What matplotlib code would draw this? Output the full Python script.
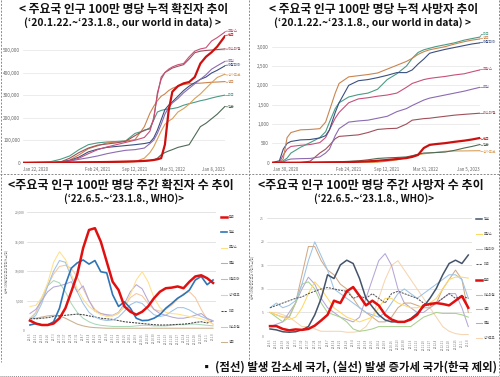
import matplotlib
matplotlib.use('Agg')
import matplotlib.pyplot as plt

plt.rcParams['font.family'] = ['Noto Sans CJK KR', 'DejaVu Sans']

# ---- 누적 확진자 (인구 100만 명당, 천 명 단위) ----
CASE_DAYS = [0, 150, 200, 250, 300, 350, 400, 450, 500, 550, 600, 650, 680, 700,
             720, 740, 760, 780, 800, 830, 860, 890, 920, 950, 980, 1010, 1040, 1082]
cum_cases = {
    '미국': [0, 5, 15, 30, 58, 80, 88, 92, 94, 97, 130, 142, 155, 190, 225, 232, 236, 238, 240, 245, 255, 262, 268, 275, 280, 287, 293, 300],
    '일본': [0, 0, 0, 0.5, 1, 1.5, 2, 3, 4, 5, 6, 8, 10, 12, 20, 35, 45, 52, 58, 68, 74, 80, 120, 160, 175, 195, 215, 250],
    '영국': [0, 0, 2, 12, 35, 62, 75, 88, 92, 96, 102, 160, 220, 250, 275, 295, 305, 320, 330, 340, 347, 350, 352, 353, 355, 357, 358, 360],
    '싱가포르': [0, 0, 0, 0, 0, 0, 0, 0, 1, 2, 5, 20, 45, 70, 105, 140, 170, 185, 195, 225, 240, 260, 285, 305, 330, 355, 378, 393],
    '이탈리아': [0, 1, 4, 10, 25, 48, 60, 68, 72, 76, 80, 85, 90, 110, 145, 190, 235, 255, 270, 295, 320, 340, 355, 370, 380, 398, 410, 430],
    '독일': [0, 0, 2, 7, 15, 22, 30, 40, 48, 55, 58, 65, 85, 100, 130, 170, 215, 245, 265, 285, 310, 330, 350, 370, 390, 415, 430, 450],
    '이스라엘': [0, 0, 3, 20, 45, 65, 78, 83, 88, 95, 120, 145, 150, 190, 310, 370, 400, 410, 420, 428, 435, 460, 488, 495, 498, 500, 502, 505],
    '프랑스': [0, 0, 1, 8, 20, 40, 58, 70, 80, 90, 100, 112, 140, 200, 300, 380, 400, 415, 425, 435, 440, 470, 495, 505, 510, 540, 555, 580],
    '한국': [0, 0, 0.5, 1, 1.5, 2, 2.5, 3, 4, 5, 6, 8, 10, 12, 15, 20, 80, 230, 315, 340, 352, 358, 380, 440, 470, 490, 515, 562],
}

# ---- 누적 사망자 (인구 100만 명당) ----
DEATH_DAYS = [0, 40, 60, 80, 100, 150, 200, 250, 280, 300, 330, 350, 400, 450, 500,
              550, 600, 650, 700, 730, 760, 790, 820, 850, 900, 950, 1000, 1040, 1082]
cum_deaths = {
    '싱가포르': [0, 0, 0, 0, 0, 0, 0, 0, 0, 0, 0, 0, 0, 0, 2, 10, 40, 70, 130, 180, 205, 230, 250, 265, 295, 302, 305, 308, 310],
    '일본': [0, 0, 0, 0, 1, 2, 5, 10, 15, 18, 22, 25, 35, 48, 75, 110, 125, 135, 150, 180, 220, 250, 255, 262, 275, 320, 380, 420, 470],
    '한국': [0, 0, 0, 0, 0, 1, 3, 6, 7, 8, 9, 10, 15, 25, 35, 50, 70, 95, 120, 150, 200, 380, 460, 480, 505, 540, 570, 600, 640],
    '이스라엘': [0, 0, 0, 0, 2, 5, 40, 250, 350, 450, 620, 680, 700, 720, 780, 860, 880, 890, 1000, 1100, 1120, 1140, 1150, 1170, 1200, 1230, 1250, 1265, 1280],
    '독일': [0, 0, 20, 70, 95, 105, 110, 150, 250, 350, 700, 880, 1050, 1080, 1100, 1150, 1200, 1320, 1400, 1480, 1550, 1620, 1670, 1700, 1750, 1800, 1850, 1900, 1950],
    '프랑스': [0, 10, 200, 350, 420, 450, 470, 520, 650, 850, 1150, 1300, 1550, 1650, 1680, 1720, 1750, 1800, 1950, 2050, 2100, 2150, 2180, 2200, 2230, 2270, 2300, 2350, 2400],
    '미국': [0, 5, 50, 120, 250, 400, 520, 650, 800, 1050, 1400, 1550, 1700, 1760, 1800, 1900, 2150, 2300, 2500, 2700, 2850, 2920, 2960, 3000, 3050, 3100, 3170, 3210, 3250],
    '이탈리아': [0, 50, 350, 500, 550, 590, 600, 640, 700, 850, 1300, 1550, 2000, 2120, 2150, 2200, 2260, 2330, 2330, 2400, 2550, 2680, 2830, 2870, 2930, 2980, 3030, 3070, 3100],
    '영국': [0, 0, 100, 650, 780, 850, 860, 880, 1050, 1350, 1800, 2050, 2220, 2250, 2280, 2320, 2420, 2520, 2620, 2700, 2800, 2870, 2920, 2950, 3000, 3070, 3130, 3170, 3200],
}

# ---- 주간 (WHO, '22.6.5.~'23.1.8.) ----
WEEKS = ['22.6.5', '22.6.12', '22.6.19', '22.6.26', '22.7.3', '22.7.10', '22.7.17', '22.7.24',
         '22.7.31', '22.8.7', '22.8.14', '22.8.21', '22.8.28', '22.9.4', '22.9.11', '22.9.18',
         '22.9.25', '22.10.2', '22.10.9', '22.10.16', '22.10.23', '22.10.30', '22.11.6', '22.11.13',
         '22.11.20', '22.11.27', '22.12.4', '22.12.11', '22.12.18', '22.12.25', '23.1.1', '23.1.8']

weekly_cases = {
    '영국': [2000, 2000, 2200, 2400, 2500, 2400, 2000, 1500, 1000, 700, 500, 400, 350, 300, 300, 300, 300, 300, 300, 300, 300, 300, 300, 300, 300, 300, 300, 300, 300, 300, 300, 300],
    '이스라엘': [1500, 3000, 5500, 7500, 8400, 8000, 6500, 4500, 3000, 2000, 1400, 1000, 800, 700, 600, 600, 600, 600, 700, 800, 800, 700, 700, 700, 800, 900, 900, 1000, 1000, 900, 800, 700],
    '미국': [2000, 1900, 2000, 2100, 2300, 2400, 2500, 2600, 2700, 2600, 2400, 2200, 2000, 1900, 1800, 1600, 1400, 1300, 1200, 1100, 1000, 900, 850, 850, 900, 950, 1000, 1100, 1300, 1400, 1200, 1500],
    '싱가포르': [2000, 3000, 5000, 7500, 9500, 10800, 11000, 10500, 9000, 7000, 5000, 3500, 2800, 2500, 2400, 2800, 4000, 5500, 6200, 5800, 4500, 3500, 3200, 3500, 4200, 5200, 6200, 6500, 5500, 3500, 1800, 1000],
    '이탈리아': [1500, 2500, 4500, 7500, 10000, 11800, 11500, 9000, 6500, 4500, 3000, 2200, 1800, 1600, 1700, 2200, 3200, 4300, 4800, 4500, 3500, 2600, 2300, 2500, 3200, 3800, 3800, 3400, 2800, 2300, 1900, 1600],
    '독일': [2800, 3500, 5000, 6500, 7300, 7500, 7800, 8200, 6500, 7500, 5000, 3200, 2800, 2600, 2500, 3000, 4500, 6500, 7700, 7000, 5000, 3500, 2800, 2500, 2200, 2000, 2000, 2200, 2500, 2800, 2000, 1500],
    '프랑스': [4000, 4200, 5500, 8000, 11500, 13300, 12000, 9500, 7000, 5200, 4000, 3200, 2600, 2300, 2400, 2900, 4000, 6000, 8500, 9900, 8200, 5500, 3800, 3000, 2800, 2700, 2500, 2300, 2100, 1900, 1500, 1000],
    '일본': [850, 1100, 850, 850, 1400, 3700, 7700, 10500, 11400, 11900, 11200, 11800, 9900, 9700, 6000, 4000, 4800, 3700, 2000, 1600, 1650, 2000, 2600, 3700, 4500, 5400, 6000, 6800, 8500, 9100, 7700, 8500],
    '한국': [1600, 1100, 850, 850, 1100, 2000, 3700, 6500, 9400, 13900, 17000, 17300, 15000, 11600, 8200, 6800, 4000, 3100, 2600, 3100, 4000, 5400, 6500, 7100, 7200, 7400, 7100, 8200, 9100, 9300, 8800, 8000],
}

weekly_deaths = {
    '싱가포르': [5, 5, 4.5, 4, 3, 2, 2, 1.5, 1, 1, 1, 1, 0.8, 0.8, 1, 2, 4, 8, 12, 15, 16, 14, 12, 10, 8, 6, 4, 2, 1, 0.5, 0.3, 0.3],
    '독일': [2, 2.5, 3, 5, 7, 10, 12.5, 11, 8, 6, 5, 4, 3.5, 3, 4, 8, 12, 16, 17.5, 15, 10, 7, 6, 5, 5, 6, 7, 8, 9, 9, 6, 2],
    '영국': [5, 4.5, 4, 4, 7, 13, 19, 19, 16, 14, 13, 11, 10, 8, 6, 5, 4, 3, 3, 4, 6, 7, 7, 6.5, 6, 6, 7, 10, 12, 14, 12, 5],
    '이스라엘': [5, 4, 3, 4, 7, 11, 11.5, 10, 7, 5, 4.5, 4, 3, 1.5, 1, 1.2, 1.5, 2, 2, 2, 2, 2, 2, 3, 4, 4.5, 5, 4.8, 4.8, 4.8, 4.5, 4],
    '이탈리아': [6, 7, 6, 6.5, 7.5, 11, 16, 20, 17, 14, 10, 9, 8, 7, 6, 5, 4.5, 4, 5, 7, 9, 10, 9, 8, 9, 10, 11, 12, 13, 13, 12, 8],
    '프랑스': [5, 4.5, 4, 3.5, 4, 6, 9, 11.5, 10, 8, 6, 5, 4, 3.5, 3, 3.5, 4, 6, 8, 8, 7, 6.5, 6, 6, 6.5, 7, 8, 10, 12, 12.5, 12.5, 12.3],
    '미국': [6, 6.5, 7, 7.5, 8, 8.3, 9, 9.5, 10, 10.3, 10, 9.7, 9.5, 8, 8.5, 8, 9, 8, 7, 9, 9.5, 9, 8.5, 8, 7, 6.5, 7, 8, 9, 8, 8.5, 8],
    '일본': [1.5, 1.3, 0.9, 0.8, 0.9, 1.3, 2.0, 4.5, 8.0, 13.0, 12.2, 15.1, 16.1, 15.4, 12.2, 8.0, 6.2, 4.5, 3.4, 3.0, 3.0, 3.0, 3.7, 4.8, 6.2, 8.0, 10.1, 13.0, 15.4, 16.1, 15.4, 17.2],
    '한국': [2.1, 2.1, 1.5, 1.2, 1.4, 1.3, 1.5, 2.2, 3.3, 4.5, 7.5, 7.0, 9.5, 10.4, 8.5, 6.5, 7.5, 6.5, 4.5, 3.5, 3.0, 3.0, 3.5, 4.5, 6.5, 6.8, 7.0, 6.8, 6.5, 7.5, 8.5, 6.0],
}

CASE_LEGEND = ['한국', '일본', '프랑스', '독일', '이탈리아', '싱가포르', '미국', '이스라엘', '영국']
DEATH_LEGEND = ['일본', '프랑스', '이탈리아', '미국', '한국', '이스라엘', '영국', '독일', '싱가포르']

# 스타일
owid_colors = {'프랑스': '#c8507a', '한국': '#cc1010', '이스라엘': '#a0505a', '독일': '#8c6bb1',
               '이탈리아': '#3a4f80', '싱가포르': '#d9a05a', '영국': '#c9854f', '미국': '#4a9c84',
               '일본': '#4f6a55'}
cases_colors = {'한국': '#e01010', '일본': '#2e75b6', '프랑스': '#ffe08a', '독일': '#b4a7d6',
                '이탈리아': '#9dc3e6', '싱가포르': '#f4c7a0', '미국': '#404040', '이스라엘': '#a9d8b8',
                '영국': '#c9b08f'}
deaths_colors = {'일본': '#44546a', '프랑스': '#ffd966', '이탈리아': '#9dc3e6', '미국': '#595959',
                 '한국': '#e01010', '이스라엘': '#a9d18e', '영국': '#d2aa85', '독일': '#b4a7d6',
                 '싱가포르': '#f6d5b0'}

W, H = 500, 377
fig = plt.figure(figsize=(5, 3.77), dpi=100)


def px_axes(l, t, r, b):
    return fig.add_axes([l / W, 1 - b / H, (r - l) / W, (b - t) / H])


# 전체 틀, 제목, 각주
ov = fig.add_axes([0, 0, 1, 1])
ov.set_xlim(0, W)
ov.set_ylim(H, 0)
ov.axis('off')
dash = dict(color='#8a8a8a', lw=0.7, ls=(0, (2, 1.5)))
ov.plot([248.5, 248.5], [0, 362], **dash)
ov.plot([0.5, 0.5], [0, 362], **dash)
ov.plot([498.5, 498.5], [0, 375], **dash)
ov.plot([0, 500], [174, 174], **dash)
ov.plot([0, 500], [375.5, 375.5], color='#8a8a8a', lw=0.7, ls=(0, (1, 1)))

t1 = dict(ha='center', va='center', fontweight='bold', fontsize=8.5, color='#111111')
t2 = dict(ha='center', va='center', fontweight='bold', fontsize=7.4, color='#111111')
t3 = dict(ha='center', va='center', fontweight='bold', fontsize=8.7, color='#111111')
t4 = dict(ha='center', va='center', fontweight='bold', fontsize=7.0, color='#111111')
ov.text(124, 10, '< 주요국 인구 100만 명당 누적 확진자 추이', **t1)
ov.text(123, 22.5, '(‘20.1.22.~‘23.1.8., our world in data) >', **t2)
ov.text(374, 10, '< 주요국 인구 100만 명당 누적 사망자 추이', **t1)
ov.text(373, 22.5, '(‘20.1.22.~‘23.1.8., our world in data) >', **t2)
ov.text(121, 186, '<주요국 인구 100만 명당 주간 확진자 수 추이', **t3)
ov.text(124, 198.5, '(‘22.6.5.~‘23.1.8., WHO)>', **t4)
ov.text(371, 186, '<주요국 인구 100만 명당 주간 사망자 수 추이', **t3)
ov.text(374, 198.5, '(‘22.6.5.~‘23.1.8., WHO)>', **t4)
ov.text(497, 367, '▪ (점선) 발생 감소세 국가, (실선) 발생 증가세 국가(한국 제외)',
        ha='right', va='center', fontweight='bold', fontsize=8.2, color='#111111')


def cumulative_panel(ax, days, series, ylim, yticks, ytl, xt, xtl, label_y):
    for v in yticks:
        ax.axhline(v, color='#bbbbbb' if v == 0 else '#e4e4e4', lw=0.5, zorder=0)
    for name, vals in series.items():
        ax.plot(days, vals, color=owid_colors[name], lw=1.6 if name == '한국' else 0.8,
                solid_capstyle='round', zorder=5 if name == '한국' else 3)
        ly = label_y[name]
        ax.plot([days[-1], days[-1] + 8, days[-1] + 14], [vals[-1], ly, ly],
                color=owid_colors[name], lw=0.5, clip_on=False)
        ax.text(days[-1] + 16, ly, name, color=owid_colors[name], fontsize=2.6,
                va='center', ha='left', clip_on=False)
    ax.set_xlim(0, days[-1])
    ax.set_ylim(*ylim)
    ax.set_yticks(yticks)
    ax.set_yticklabels(ytl, fontsize=3.4, color='#666666')
    ax.set_xticks(xt)
    ax.set_xticklabels(xtl, fontsize=3.1, color='#666666')
    labs = ax.get_xticklabels()
    labs[0].set_ha('left')
    labs[-1].set_ha('right')
    ax.tick_params(length=0, pad=2)
    ax.tick_params(axis='x', pad=3)
    for s in ax.spines.values():
        s.set_visible(False)
    ax.patch.set_alpha(0)


ax1 = px_axes(23, 27.5, 225, 162.7)
cumulative_panel(ax1, CASE_DAYS, cum_cases, (0, 600), [0, 100, 200, 300, 400, 500],
                 ['0', '100,000', '200,000', '300,000', '400,000', '500,000'],
                 [0, 399, 599, 799, 1082],
                 ['Jan 22, 2020', 'Feb 24, 2021', 'Sep 12, 2021', 'Mar 31, 2022', 'Jan 8, 2023'],
                 {'프랑스': 584, '한국': 566, '이스라엘': 504, '독일': 451, '이탈리아': 433,
                  '싱가포르': 389, '영국': 357, '미국': 300, '일본': 248})

ax2 = px_axes(271.7, 35.1, 480, 162.7)
cumulative_panel(ax2, DEATH_DAYS, cum_deaths, (0, 3300), [0, 500, 1000, 1500, 2000, 2500, 3000],
                 ['0', '500', '1,000', '1,500', '2,000', '2,500', '3,000'],
                 [8, 399, 599, 799, 1079],
                 ['Jan 30, 2020', 'Feb 24, 2021', 'Sep 12, 2021', 'Mar 31, 2022', 'Jan 5, 2023'],
                 {'미국': 3320, '영국': 3217, '이탈리아': 3113, '프랑스': 2415, '독일': 1950,
                  '이스라엘': 1280, '한국': 605, '일본': 450, '싱가포르': 285})


def weekly_panel(ax, series, colors, order, ylim, yticks, ytl, ylabel, leg_x, leg_y, thick):
    x = list(range(len(WEEKS)))
    for v in yticks:
        ax.axhline(v, color='#d9d9d9', lw=0.5, zorder=0)
    for name, vals in series.items():
        lw = thick.get(name, 0.75)
        ls = (0, (2, 1)) if name == '미국' else '-'
        ax.plot(x, vals, color=colors[name], lw=lw, ls=ls, zorder=5 if name in thick else 3)
    ax.set_xlim(-0.5, len(WEEKS) - 0.5)
    ax.set_ylim(*ylim)
    ax.set_yticks(yticks)
    ax.set_yticklabels(ytl, fontsize=2.4, color='#777777')
    ax.set_xticks(x)
    ax.set_xticklabels(WEEKS, rotation=90, fontsize=2.0, color='#777777')
    ax.tick_params(length=0, pad=2)
    ax.set_ylabel(ylabel, fontsize=2.2, color='#777777', labelpad=4)
    for s in ax.spines.values():
        s.set_visible(False)
    ax.patch.set_alpha(0)
    for name, ly in zip(order, leg_y):
        lw = thick.get(name, 0.75)
        ls = (0, (2, 1)) if name == '미국' else '-'
        ov.plot([leg_x, leg_x + 6], [ly, ly], color=colors[name], lw=lw, ls=ls)
        ov.text(leg_x + 8, ly, name, fontsize=2.3, color='#555555', va='center', ha='left')


ax3 = px_axes(27, 212.3, 216, 330)
weekly_panel(ax3, weekly_cases, cases_colors, CASE_LEGEND, (0, 20000),
             [0, 5000, 10000, 15000, 20000], ['0', '5,000', '10,000', '15,000', '20,000'],
             '인구 100만 명당 주간 확진자 수(명)',
             221, [216.7, 232, 247.5, 263, 279, 294.5, 311, 327, 342],
             {'한국': 1.8, '일본': 1.2})

ax4 = px_axes(266.8, 218.3, 471.5, 336)
weekly_panel(ax4, weekly_deaths, deaths_colors, DEATH_LEGEND, (0, 25),
             [0, 5, 10, 15, 20, 25], ['0', '5', '10', '15', '20', '25'],
             '인구 100만 명당 주간 사망자 수(명)',
             476, [219, 234, 249, 264, 280, 295, 309, 323, 338],
             {'한국': 1.8, '일본': 1.1})

fig.savefig('out.png', dpi=100)
